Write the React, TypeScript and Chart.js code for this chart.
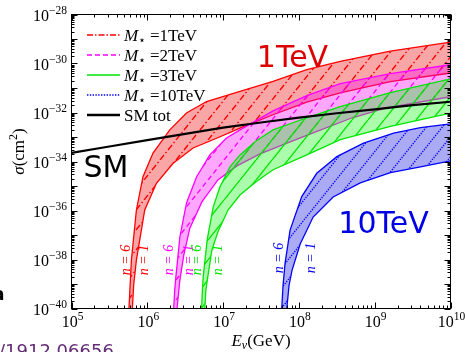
import React, { useEffect, useRef } from 'react';
import { Chart, registerables } from 'chart.js';
Chart.register(...registerables);

// ---------- data (energies in GeV, cross-sections in cm^2) ----------
// M* = 1 TeV, n = 6 (upper edge) and n = 1 (lower edge)
const r6E = [5.73e5, 5.89e5, 6.17e5, 7.18e5, 8.77e5, 1.19e6, 1.98e6, 3.29e6, 6.05e6, 1.67e7, 4.56e7, 1.27e8, 3.51e8, 1.61e9, 1e10];
const r6S = [1e-40, 5.6e-40, 9.5e-39, 1.05e-36, 2.4e-35, 2.2e-34, 1.95e-33, 9.5e-33, 2.8e-32, 7.2e-32, 1.86e-31, 5.6e-31, 1.23e-30, 3.2e-30, 7.4e-30];
const r1E = [6.35e5, 6.61e5, 7.18e5, 9.25e5, 1.32e6, 2.19e6, 4.02e6, 8.2e6, 1.67e7, 4.56e7, 1.27e8, 3.51e8, 1.61e9, 1e10];
const r1S = [1e-40, 8.9e-40, 9.5e-39, 1.05e-36, 1.29e-35, 8.5e-35, 3.55e-34, 8.9e-34, 2.3e-33, 8.1e-33, 2.63e-32, 6.3e-32, 1.82e-31, 4.1e-31];
// M* = 2 TeV
const p6E = [2.23e6, 2.30e6, 2.38e6, 2.69e6, 3.29e6, 4.46e6, 6.68e6, 1.11e7, 1.67e7, 4.56e7, 1.27e8, 3.51e8, 1.61e9, 1e10];
const p6S = [1e-40, 5.6e-40, 1.9e-39, 8.3e-38, 2.04e-36, 2.34e-35, 1.86e-34, 9.1e-34, 1.95e-33, 1.17e-32, 4.9e-32, 1.51e-31, 3.9e-31, 8.9e-31];
const p1E = [2.47e6, 2.69e6, 3.03e6, 3.64e6, 5.25e6, 8.53e6, 1.52e7, 3.07e7, 6.57e7, 1.80e8, 5.06e8, 1.42e9, 1e10];
const p1S = [1e-40, 1.45e-39, 1.5e-38, 1.9e-37, 2.24e-36, 1.78e-35, 6.6e-35, 2.04e-34, 5.2e-34, 1.78e-33, 6.1e-33, 1.55e-32, 4.4e-32];
// M* = 3 TeV
const g6E = [5.2e6, 5.33e6, 5.46e6, 6.16e6, 7.40e6, 9.07e6, 1.23e7, 1.67e7, 2.72e7, 4.56e7, 1.27e8, 3.51e8, 1.61e9, 1e10];
const g6S = [1e-40, 5.6e-40, 1.9e-39, 6.2e-38, 1.38e-36, 9.1e-36, 6.0e-35, 1.86e-34, 6.9e-34, 1.95e-33, 6.1e-33, 1.74e-32, 6.5e-32, 2.34e-31];
const g1E = [5.74e6, 5.92e6, 6.19e6, 7.11e6, 8.53e6, 1.16e7, 1.67e7, 2.72e7, 4.56e7, 1.27e8, 3.51e8, 1.61e9, 1e10];
const g1S = [1e-40, 5.6e-40, 1.45e-39, 2.4e-38, 1.32e-37, 1.05e-36, 4.3e-36, 1.48e-35, 4.6e-35, 1.86e-34, 7.8e-34, 2.7e-33, 9.5e-33];
// M* = 10 TeV
const b6E = [5.94e7, 6.18e7, 6.57e7, 7.65e7, 1.09e8, 1.72e8, 3.17e8, 7.13e8, 1.78e9, 4.01e9, 1e10];
const b6S = [1e-40, 8.9e-40, 7.1e-39, 1.58e-37, 3.7e-36, 3.3e-35, 1.58e-34, 5.6e-34, 1.45e-33, 2.4e-33, 3.4e-33];
const b1E = [6.92e7, 7.42e7, 8.13e7, 1.04e8, 1.54e8, 2.83e8, 6.45e8, 1.61e9, 4.01e9, 1e10];
const b1S = [1e-40, 8.9e-40, 3.7e-39, 4.3e-38, 5.4e-37, 3.55e-36, 1.35e-35, 3.5e-35, 6.0e-35, 1.07e-34];
// Standard Model total
const smE = [1e5, 3.16e5, 1e6, 3.16e6, 1e7, 3.16e7, 1e8, 3.16e8, 1e9, 3.16e9, 1e10];
const smS = [2.24e-34, 4.1e-34, 7.4e-34, 1.35e-33, 2.4e-33, 3.9e-33, 6.2e-33, 9.3e-33, 1.35e-32, 2.0e-32, 2.75e-32];

// ---------- axes / labels ----------
const xMin = 1e5, xMax = 1e10, yMin = 1e-40, yMax = 1e-28;
const xTickExp = [5, 6, 7, 8, 9, 10];
const yTickExp = [-40, -38, -36, -34, -32, -30, -28];
const legendNames = ['1TeV', '2TeV', '3TeV', '10TeV'];
const smName = 'SM tot';
const nLabels = ['6', '1'];

const RED = '#ff0000', MAG = '#ff00ff', GRN = '#00e600', BLU = '#0000ff';
const SERIF = '"Liberation Serif", "DejaVu Serif", serif';
const SANS = '"DejaVu Sans", "Liberation Sans", sans-serif';

type Part = { t: string; f: string; dy?: number };
function drawRich(ctx: CanvasRenderingContext2D, x: number, y: number, parts: Part[], align: 'left' | 'center' | 'right') {
  let w = 0;
  for (const p of parts) { ctx.font = p.f; w += ctx.measureText(p.t).width; }
  let cx = align === 'left' ? x : align === 'center' ? x - w / 2 : x - w;
  ctx.textAlign = 'left';
  ctx.textBaseline = 'alphabetic';
  for (const p of parts) {
    ctx.font = p.f;
    ctx.fillText(p.t, cx, y + (p.dy || 0));
    cx += ctx.measureText(p.t).width;
  }
}

function makeHatch(bg: string, stroke: string, dash: (L: number) => number[]) {
  const w = 16, h = 20;
  const c = document.createElement('canvas');
  c.width = w; c.height = h;
  const g = c.getContext('2d')!;
  g.fillStyle = bg; g.fillRect(0, 0, w, h);
  g.strokeStyle = stroke; g.lineWidth = 1.35;
  const L = Math.hypot(w, h);
  g.setLineDash(dash(L));
  for (const off of [-w, 0, w]) {
    g.beginPath(); g.moveTo(off, h); g.lineTo(off + w, 0); g.stroke();
  }
  return g.createPattern(c, 'repeat')!;
}

const pts = (E: number[], S: number[]) => E.map((x, i) => ({ x, y: S[i] }));

const decor = {
  id: 'decor',
  afterDraw(chart: any) {
    const ctx: CanvasRenderingContext2D = chart.ctx;
    const xs = chart.scales.x, ys = chart.scales.y, a = chart.chartArea;
    ctx.save();
    // frame
    ctx.strokeStyle = '#000'; ctx.lineWidth = 1;
    ctx.strokeRect(a.left, a.top, a.right - a.left, a.bottom - a.top);
    // ticks (inward, all four sides)
    ctx.beginPath();
    for (let d = 5; d <= 10; d++) {
      for (let k = 1; k <= 9; k++) {
        const v = k * Math.pow(10, d);
        if (v > xMax * 1.001) break;
        const px = Math.round(xs.getPixelForValue(v)) + 0.5;
        const len = k === 1 ? 6 : 3;
        ctx.moveTo(px, a.bottom); ctx.lineTo(px, a.bottom - len);
        ctx.moveTo(px, a.top); ctx.lineTo(px, a.top + len);
      }
    }
    for (let d = -40; d <= -28; d++) {
      for (let k = 1; k <= 9; k++) {
        const v = k * Math.pow(10, d);
        if (v > yMax * 1.001) break;
        const py = Math.round(ys.getPixelForValue(v)) + 0.5;
        const len = k === 1 ? 6 : 3;
        ctx.moveTo(a.left, py); ctx.lineTo(a.left + len, py);
        ctx.moveTo(a.right, py); ctx.lineTo(a.right - len, py);
      }
    }
    ctx.stroke();
    // tick labels
    ctx.fillStyle = '#000';
    for (const e of xTickExp) {
      const px = xs.getPixelForValue(Math.pow(10, e));
      drawRich(ctx, px + 1, 327, [
        { t: '10', f: `16px ${SERIF}` },
        { t: String(e), f: `11.5px ${SERIF}`, dy: -7 },
      ], 'center');
    }
    for (const e of yTickExp) {
      const py = ys.getPixelForValue(Math.pow(10, e));
      drawRich(ctx, 67, py + 6, [
        { t: '10', f: `16px ${SERIF}` },
        { t: '\u2212' + String(-e), f: `11.5px ${SERIF}`, dy: -7 },
      ], 'right');
    }
    // axis titles
    drawRich(ctx, 261, 346, [
      { t: 'E', f: `italic 17px ${SERIF}` },
      { t: '\u03bd', f: `italic 12px ${SERIF}`, dy: 3 },
      { t: '(GeV)', f: `17px ${SERIF}` },
    ], 'center');
    ctx.save();
    ctx.translate(17.5, 151.5);
    ctx.rotate(-Math.PI / 2);
    drawRich(ctx, 0, 6, [
      { t: '\u03c3', f: `italic 17px ${SERIF}` },
      { t: '(cm', f: `17px ${SERIF}` },
      { t: '2', f: `12px ${SERIF}`, dy: -7 },
      { t: ')', f: `17px ${SERIF}` },
    ], 'center');
    ctx.restore();
    // big annotations
    ctx.textAlign = 'center'; ctx.textBaseline = 'alphabetic';
    ctx.font = `30px ${SANS}`;
    ctx.fillStyle = '#dd0000'; ctx.fillText('1TeV', 292.5, 66.5);
    ctx.fillStyle = '#000000'; ctx.fillText('SM', 106, 177);
    ctx.fillStyle = '#0000e6'; ctx.fillText('10TeV', 383.5, 233);
    // n labels (rotated)
    const nPos: [number, number, string][] = [
      [125, 260, RED], [143.3, 260, RED],
      [168.3, 260, MAG], [188.3, 260, MAG],
      [196, 260, GRN], [217.3, 260, GRN],
      [278.3, 258, BLU], [310, 258, BLU],
    ];
    nPos.forEach(([cx, cy, col], i) => {
      ctx.save();
      ctx.translate(cx, cy);
      ctx.rotate(-Math.PI / 2);
      ctx.fillStyle = col;
      drawRich(ctx, 0, 4.5, [
        { t: 'n', f: `italic 14px ${SERIF}` },
        { t: ' = ' + nLabels[i % 2], f: `italic 14px ${SERIF}` },
      ], 'center');
      ctx.restore();
    });
    // stray page text at edges
    ctx.fillStyle = '#000';
    ctx.font = `bold 17px ${SANS}`; ctx.textAlign = 'left';
    ctx.fillText('a', -7, 300);
    ctx.fillStyle = 'rgb(100,45,120)';
    ctx.font = `18px ${SANS}`;
    ctx.fillText('/1912.06656', -1, 357);
    // legend
    const items = [
      { c: RED, d: [6, 2, 1.5, 2], w: 1.6 },
      { c: MAG, d: [5, 3], w: 1.6 },
      { c: GRN, d: [], w: 1.6 },
      { c: BLU, d: [1.4, 1.4], w: 1.6 },
      { c: '#000', d: [], w: 2.5 },
    ];
    items.forEach((it, i) => {
      const y = 35 + 20 * i;
      ctx.save();
      ctx.strokeStyle = it.c; ctx.lineWidth = it.w; ctx.setLineDash(it.d);
      ctx.beginPath(); ctx.moveTo(87, y); ctx.lineTo(120, y); ctx.stroke();
      ctx.restore();
      ctx.fillStyle = '#000';
      if (i < 4) {
        drawRich(ctx, 124, y + 5.5, [
          { t: 'M', f: `italic 17px ${SERIF}` },
          { t: '\u22c6', f: `12px ${SANS}`, dy: 3 },
          { t: ' =' + legendNames[i], f: `17px ${SERIF}` },
        ], 'left');
      } else {
        drawRich(ctx, 124, y + 5.5, [{ t: smName, f: `17px ${SERIF}` }], 'left');
      }
    });
    ctx.restore();
  },
};

export default function App() {
  const ref = useRef<HTMLCanvasElement>(null);
  useEffect(() => {
    const bands = [
      { up: pts(r6E, r6S), lo: pts(r1E, r1S), c: RED, bg: 'rgba(240,0,0,0.35)', dash: (L: number) => [L / 4, L / 10.6, L / 16, L / 10.6] },
      { up: pts(p6E, p6S), lo: pts(p1E, p1S), c: MAG, bg: 'rgba(255,0,255,0.35)', dash: (L: number) => [L / 5, L / 7.5] },
      { up: pts(g6E, g6S), lo: pts(g1E, g1S), c: GRN, bg: 'rgba(0,245,0,0.33)', dash: () => [] },
      { up: pts(b6E, b6S), lo: pts(b1E, b1S), c: BLU, bg: 'rgba(0,0,225,0.33)', dash: (L: number) => [L / 20, L / 20] },
    ];
    const datasets: any[] = [];
    bands.forEach((b, i) => {
      const base = 20 - i * 4;
      datasets.push({
        data: [...b.up, ...b.lo.slice().reverse()],
        backgroundColor: makeHatch(b.bg, b.c, b.dash),
        borderColor: 'rgba(0,0,0,0)', borderWidth: 0,
        fill: 'shape', pointRadius: 0, tension: 0, order: base,
      });
      datasets.push({ data: b.up, borderColor: b.c, borderWidth: 1.3, pointRadius: 0, fill: false, tension: 0, order: base - 1 });
      datasets.push({ data: b.lo, borderColor: b.c, borderWidth: 1.3, pointRadius: 0, fill: false, tension: 0, order: base - 1 });
    });
    datasets.push({ data: pts(smE, smS), borderColor: '#000', borderWidth: 2.2, pointRadius: 0, fill: false, tension: 0, order: 0 });

    const chart = new Chart(ref.current!, {
      type: 'line',
      data: { datasets },
      options: {
        animation: false,
        responsive: false,
        devicePixelRatio: 1,
        events: [],
        layout: { padding: { left: 71.5, top: 14.5, right: 14.5, bottom: 43.5 } },
        scales: {
          x: { type: 'logarithmic', min: xMin, max: xMax, display: false },
          y: { type: 'logarithmic', min: yMin, max: yMax, display: false },
        },
        plugins: { legend: { display: false }, tooltip: { enabled: false } },
      },
      plugins: [decor],
    } as any);
    return () => chart.destroy();
  }, []);
  return (
    <div style={{ position: 'fixed', left: 0, top: 0, width: 465, height: 352, background: '#fff' }}>
      <canvas ref={ref} width={465} height={352} style={{ width: 465, height: 352, display: 'block' }} />
    </div>
  );
}
